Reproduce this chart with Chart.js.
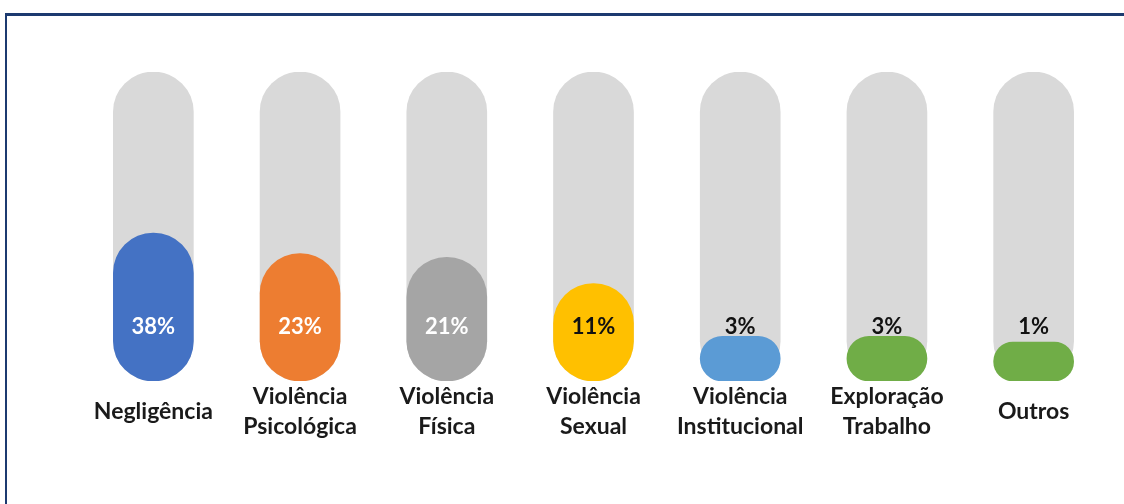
<!DOCTYPE html>
<html>
<head>
<meta charset="utf-8">
<script src="https://cdn.jsdelivr.net/npm/chart.js@4"></script>
<style>
  body { margin: 0; background: #fff; }
  #wrap { position: relative; width: 1124px; height: 504px; overflow: hidden; }
  #frame {
    position: absolute; left: 5px; top: 13px; width: 1200px; height: 600px;
    border-top: 3px solid #1c3a70; border-left: 2px solid #1c3a70;
  }
  canvas { position: absolute; left: 0; top: 0; }
</style>
</head>
<body>
<div id="wrap">
  <div id="frame"></div>
  <canvas id="chart" width="1124" height="504"></canvas>
</div>
<script>
// Chart data
const categories = [
  ['Negligência'],
  ['Violência', 'Psicológica'],
  ['Violência', 'Física'],
  ['Violência', 'Sexual'],
  ['Violência', 'Institucional'],
  ['Exploração', 'Trabalho'],
  ['Outros']
];
const percentValues = [38, 23, 21, 11, 3, 3, 1];

// Track (grey pill) runs up to the top of the value axis
const TRACK_TOP = 2000;
const trackValues = categories.map(() => TRACK_TOP);

const barColors = ['#4472c4', '#ed7d31', '#a5a5a5', '#ffc000', '#5b9bd5', '#70ad47', '#70ad47'];
const labelColors = ['#ffffff', '#ffffff', '#ffffff', '#111111', '#111111', '#111111', '#111111'];

const FONT = 'Lato, "Open Sans", sans-serif';

// Percent labels, all sitting on the same line above the bar bases
const valueLabels = {
  id: 'valueLabels',
  afterDatasetsDraw(chart) {
    const ctx = chart.ctx;
    const meta = chart.getDatasetMeta(0);
    const y = chart.scales.y.bottom - 54;
    ctx.save();
    ctx.font = 'bold 22px ' + FONT;
    ctx.textAlign = 'center';
    ctx.textBaseline = 'middle';
    meta.data.forEach((bar, i) => {
      ctx.fillStyle = labelColors[i];
      ctx.fillText(percentValues[i] + '%', bar.x, y);
    });
    ctx.restore();
  }
};

new Chart(document.getElementById('chart'), {
  type: 'bar',
  data: {
    labels: categories,
    datasets: [
      {
        data: percentValues,
        backgroundColor: barColors,
        barThickness: 80,
        borderRadius: 40,
        borderSkipped: false,
        minBarLength: 39,
        grouped: false
      },
      {
        data: trackValues,
        backgroundColor: '#d9d9d9',
        barThickness: 80,
        borderRadius: 40,
        borderSkipped: false,
        grouped: false
      }
    ]
  },
  options: {
    responsive: false,
    animation: false,
    layout: { padding: { left: 80, right: 17, top: 72, bottom: 60 } },
    plugins: {
      legend: { display: false },
      tooltip: { enabled: false }
    },
    scales: {
      x: {
        grid: { display: false, drawTicks: false },
        border: { display: false },
        ticks: {
          autoSkip: false,
          maxRotation: 0,
          padding: 16,
          crossAlign: 'center',
          color: '#1a1a1a',
          font: { family: FONT, size: 23, weight: 'bold', lineHeight: 1.3 }
        },
        afterFit: (scale) => { scale.height = 63; }
      },
      y: {
        type: 'logarithmic',
        display: false,
        min: 1,
        max: TRACK_TOP
      }
    }
  },
  plugins: [valueLabels]
});
</script>
</body>
</html>
